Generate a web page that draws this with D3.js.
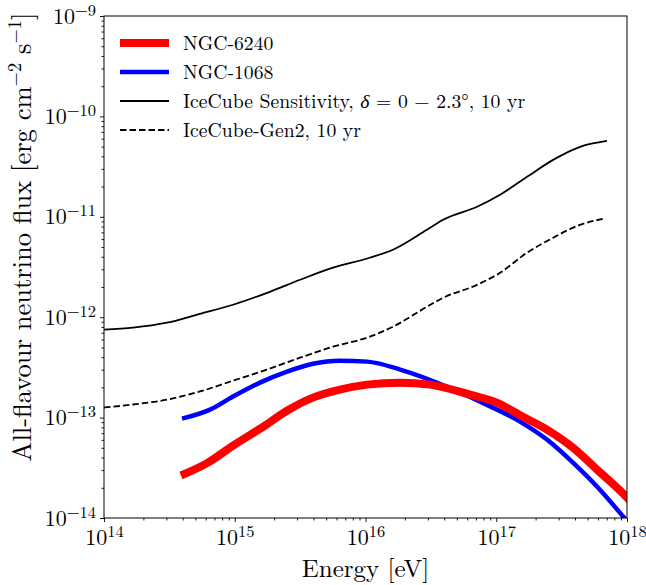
<!DOCTYPE html>
<html>
<head>
<meta charset="utf-8">
<script src="https://cdn.jsdelivr.net/npm/d3@7"></script>
<style>
  body { margin: 0; background: #fff; }
  svg { display: block; }
</style>
</head>
<body>
<div id="chart"></div>
<script>
// values (energy in eV, flux in erg cm^-2 s^-1)
const ngc6240E = [3.88e14, 6.24e14, 9.70e14, 1.61e15, 2.51e15, 3.96e15, 6.38e15, 1.03e16, 1.84e16,
  3.11e16, 6.30e16, 1.01e17, 1.60e17, 2.44e17, 3.86e17, 5.89e17, 1.0e18, 1.3e18];
const ngc6240F = [2.65e-14, 3.56e-14, 5.26e-14, 7.94e-14, 1.17e-13, 1.58e-13, 1.90e-13, 2.13e-13, 2.23e-13,
  2.13e-13, 1.69e-13, 1.41e-13, 1.02e-13, 7.60e-14, 5.02e-14, 3.04e-14, 1.60e-14, 1.1e-14];

const ngc1068E = [3.95e14, 6.47e14, 9.70e14, 1.56e15, 2.51e15, 3.96e15, 6.38e15, 1.03e16, 1.84e16,
  4.20e16, 7.52e16, 1.52e17, 2.44e17, 3.86e17, 5.89e17, 9.31e17, 1.2e18];
const ngc1068F = [9.77e-14, 1.20e-13, 1.62e-13, 2.23e-13, 2.87e-13, 3.44e-13, 3.69e-13, 3.61e-13, 3.01e-13,
  2.03e-13, 1.44e-13, 9.12e-14, 6.04e-14, 3.56e-14, 2.06e-14, 1.04e-14, 7.0e-15];

const iceE = [1e14, 1.67e14, 3.03e14, 5.42e14, 9.70e14, 1.77e15, 3.16e15, 5.64e15, 1.08e16, 1.62e16,
  2.95e16, 3.92e16, 7.13e16, 1.07e17, 1.72e17, 2.72e17, 4.38e17, 7.03e17];
const iceF = [7.52e-13, 7.87e-13, 8.81e-13, 1.08e-12, 1.33e-12, 1.75e-12, 2.36e-12, 3.11e-12, 3.91e-12, 4.70e-12,
  7.43e-12, 9.33e-12, 1.26e-11, 1.66e-11, 2.50e-11, 3.69e-11, 4.98e-11, 5.70e-11];

const gen2E = [1e14, 1.67e14, 3.03e14, 5.42e14, 9.70e14, 1.77e15, 3.16e15, 5.64e15, 1.08e16, 1.62e16,
  2.95e16, 3.92e16, 7.13e16, 1.07e17, 1.72e17, 2.72e17, 4.38e17, 6.56e17];
const gen2F = [1.26e-13, 1.35e-13, 1.51e-13, 1.82e-13, 2.33e-13, 3.01e-13, 3.95e-13, 5.08e-13, 6.40e-13, 8.04e-13,
  1.27e-12, 1.56e-12, 2.10e-12, 2.77e-12, 4.39e-12, 6.18e-12, 8.32e-12, 9.55e-12];

const xTickExp = [14, 15, 16, 17, 18];
const yTickExp = [-14, -13, -12, -11, -10, -9];

const series = [
  {label: ["NGC-6240"], E: ngc6240E, F: ngc6240F, color: "#ff0000", width: 8, dash: null},
  {label: ["NGC-1068"], E: ngc1068E, F: ngc1068F, color: "#0000ff", width: 4.5, dash: null},
  {label: ["IceCube Sensitivity, ", {t: "δ", i: true}, " = 0 − 2.3°, 10 yr"], E: iceE, F: iceF, color: "#000", width: 1.8, dash: null},
  {label: ["IceCube-Gen2, 10 yr"], E: gen2E, F: gen2F, color: "#000", width: 1.8, dash: "6.5,3"}
];

const FONT = "'Latin Modern Roman', 'Liberation Serif', serif";

const width = 646, height = 585;
const margin = {top: 16, right: 19, bottom: 67, left: 104};
const iw = width - margin.left - margin.right;
const ih = height - margin.top - margin.bottom;

const svg = d3.select("#chart").append("svg")
    .attr("width", width)
    .attr("height", height);

const x = d3.scaleLog().domain([1e14, 1e18]).range([0, iw]);
const y = d3.scaleLog().domain([1e-14, 1e-9]).range([ih, 0]);

const g = svg.append("g")
    .attr("transform", "translate(" + margin.left + "," + margin.top + ")");

g.append("clipPath").attr("id", "clip")
  .append("rect").attr("width", iw).attr("height", ih);

// minor ticks
const minorX = [];
for (let e = 14; e < 18; e++) for (let k = 2; k < 10; k++) minorX.push(k * Math.pow(10, e));
const minorY = [];
for (let e = -14; e < -9; e++) for (let k = 2; k < 10; k++) minorY.push(k * Math.pow(10, e));

g.append("g")
    .attr("transform", "translate(0," + ih + ")")
    .call(d3.axisBottom(x).tickValues(minorX).tickSize(2.5).tickFormat(""))
    .call(a => a.select(".domain").remove());
g.append("g")
    .call(d3.axisLeft(y).tickValues(minorY).tickSize(2.5).tickFormat(""))
    .call(a => a.select(".domain").remove());

const supLabel = (sel, exp) => {
  sel.text(null);
  sel.append("tspan").attr("font-size", 22).text("10");
  sel.append("tspan").attr("font-size", 16.5).attr("dy", -8)
      .text(exp < 0 ? "\u2212" + (-exp) : exp);
};

const xAxis = g.append("g")
    .attr("transform", "translate(0," + ih + ")")
    .call(d3.axisBottom(x).tickValues(xTickExp.map(e => Math.pow(10, e))).tickSize(4));
xAxis.select(".domain").remove();
xAxis.selectAll(".tick text")
    .attr("y", 27)
    .attr("dy", 0)
    .attr("text-anchor", "middle")
    .each(function(d) { supLabel(d3.select(this), Math.round(Math.log10(d))); });

const yAxis = g.append("g")
    .call(d3.axisLeft(y).tickValues(yTickExp.map(e => Math.pow(10, e))).tickSize(4));
yAxis.select(".domain").remove();
yAxis.selectAll(".tick text")
    .attr("x", -8)
    .attr("y", 7)
    .attr("dy", 0)
    .each(function(d) { supLabel(d3.select(this), Math.round(Math.log10(d))); });

g.selectAll(".tick line").attr("stroke", "#000").attr("stroke-width", 0.9);

// curves
const line = d3.line()
    .x(d => x(d[0]))
    .y(d => y(d[1]))
    .curve(d3.curveMonotoneX);

g.append("g").attr("clip-path", "url(#clip)")
  .selectAll("path")
  .data(series.slice().reverse())
  .join("path")
    .attr("fill", "none")
    .attr("stroke", d => d.color)
    .attr("stroke-width", d => d.width)
    .attr("stroke-dasharray", d => d.dash)
    .attr("d", d => line(d.E.map((e, i) => [e, d.F[i]])));

// frame
g.append("rect")
    .attr("width", iw).attr("height", ih)
    .attr("fill", "none").attr("stroke", "#000").attr("stroke-width", 1);

// legend
const legend = g.append("g").attr("transform", "translate(16,27)");
const rows = legend.selectAll("g").data(series).join("g")
    .attr("transform", (d, i) => "translate(0," + (i * 29) + ")");
rows.append("line")
    .attr("x1", 0).attr("x2", 49)
    .attr("stroke", d => d.color)
    .attr("stroke-width", d => d.width)
    .attr("stroke-dasharray", d => d.dash);
rows.append("text")
    .attr("x", 63).attr("dy", "0.36em")
    .attr("font-size", 19.7)
    .each(function(d) {
      const t = d3.select(this);
      d.label.forEach(p => {
        if (typeof p === "string") t.append("tspan").text(p);
        else t.append("tspan").attr("font-style", "italic").text(p.t);
      });
    });

// axis labels
svg.append("text")
    .attr("x", margin.left + iw / 2).attr("y", 577)
    .attr("text-anchor", "middle")
    .attr("font-size", 25)
    .text("Energy [eV]");

const yl = svg.append("text")
    .attr("transform", "translate(31,237) rotate(-90)")
    .attr("text-anchor", "middle")
    .attr("font-size", 26.5);
yl.append("tspan").text("All-flavour neutrino flux [erg cm");
yl.append("tspan").attr("font-size", 18.5).attr("dy", -10).text("\u22122");
yl.append("tspan").attr("dy", 10).text(" s");
yl.append("tspan").attr("font-size", 18.5).attr("dy", -10).text("\u22121");
yl.append("tspan").attr("dy", 10).text("]");

svg.selectAll("text").style("font-family", FONT).attr("fill", "#000");
</script>
</body>
</html>
